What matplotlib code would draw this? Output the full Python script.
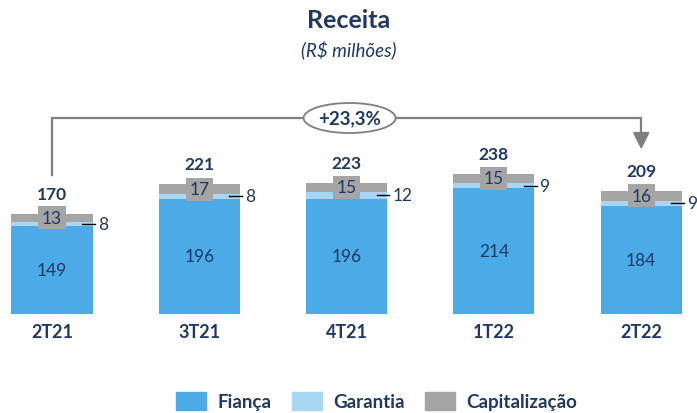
import matplotlib.pyplot as plt
from matplotlib.patches import Ellipse, Patch

plt.rcParams['font.family'] = ['Lato', 'DejaVu Sans']

periods = ['2T21', '3T21', '4T21', '1T22', '2T22']
fianca = [149, 196, 196, 214, 184]
garantia = [8, 8, 12, 9, 9]
capitalizacao = [13, 17, 15, 15, 16]
totals = [170, 221, 223, 238, 209]
growth = '+23,3%'

c_fianca = '#4AABE6'
c_garantia = '#A8D6F5'
c_cap = '#A5A5A5'
navy = '#1F3864'
line_grey = '#7F7F7F'

W, H = 697, 414
fig = plt.figure(figsize=(W / 100, H / 100), dpi=100)
ax = fig.add_axes([0, 0, 1, 1])

# pixel layout: bar centres 52 + 147.3*i, baseline at y=315px, 0.588 px per unit
x0, dx = 52.0, 147.3
base, k = 315.0, 0.588
ax.set_xlim(-x0 / dx, (W - x0) / dx)
ax.set_ylim((base - H) / k, base / k)
ax.axis('off')

x = list(range(len(periods)))
bw = 0.55
bottom2 = [f + g for f, g in zip(fianca, garantia)]
ax.bar(x, fianca, bw, color=c_fianca, label='Fiança')
ax.bar(x, garantia, bw, bottom=fianca, color=c_garantia, label='Garantia')
ax.bar(x, capitalizacao, bw, bottom=bottom2, color=c_cap, label='Capitalização')

for i in x:
    ax.text(i, fianca[i] / 2, str(fianca[i]), ha='center', va='center',
            fontsize=12.5, color=navy)
    ax.text(i, bottom2[i] + capitalizacao[i] / 2, str(capitalizacao[i]),
            ha='center', va='center', fontsize=12.5, color=navy,
            bbox=dict(boxstyle='square,pad=0.2', fc=c_cap, ec='none'))
    yg = fianca[i] + garantia[i] / 2
    ax.plot([i + bw / 2 - 0.07, i + bw / 2 + 0.015], [yg, yg], color='black', lw=1)
    ax.text(i + bw / 2 + 0.035, yg, str(garantia[i]), ha='left', va='center',
            fontsize=12.5, color=navy)
    ax.text(i, totals[i] + 34, str(totals[i]), ha='center', va='center',
            fontsize=12.5, fontweight='bold', color=navy)
    ax.text(i, (base - 332) / k, periods[i], ha='center', va='center',
            fontsize=13, fontweight='bold', color=navy)

# growth bracket from first to last period
y_top = (base - 119) / k
ax.plot([0, 0, 4, 4], [totals[0] + 67, y_top, y_top, totals[-1] + 95],
        color=line_grey, lw=1.6, solid_joinstyle='miter')
ax.annotate('', xy=(4, totals[-1] + 71), xytext=(4, totals[-1] + 96),
            arrowprops=dict(arrowstyle='-|>,head_length=1.0,head_width=0.5',
                            color=line_grey, lw=1.6, shrinkA=0, shrinkB=0))
ax.add_patch(Ellipse((2.02, y_top), 92 / dx, 30 / k, fc='white',
                     ec=line_grey, lw=1.3, zorder=3))
ax.text(2.02, y_top, growth, ha='center', va='center', fontsize=13.5,
        fontweight='bold', color=navy, zorder=4)

fig.text(0.5, 1 - 20 / H, 'Receita', ha='center', va='center',
         fontsize=18, fontweight='bold', color=navy)
fig.text(0.5, 1 - 50 / H, '(R$ milhões)', ha='center', va='center',
         fontsize=13.5, style='italic', color=navy)

handles = [Patch(color=c_fianca), Patch(color=c_garantia), Patch(color=c_cap)]
fig.legend(handles, ['Fiança', 'Garantia', 'Capitalização'], loc='upper center',
           bbox_to_anchor=(0.5 + 28 / W, 1 - 393 / H), ncol=3, frameon=False,
           handlelength=1.6, handleheight=1.1, handletextpad=0.6,
           columnspacing=1.1, borderaxespad=0, borderpad=0,
           prop=dict(size=13.5, weight='bold'), labelcolor=navy)

fig.savefig('out.png', dpi=100)
